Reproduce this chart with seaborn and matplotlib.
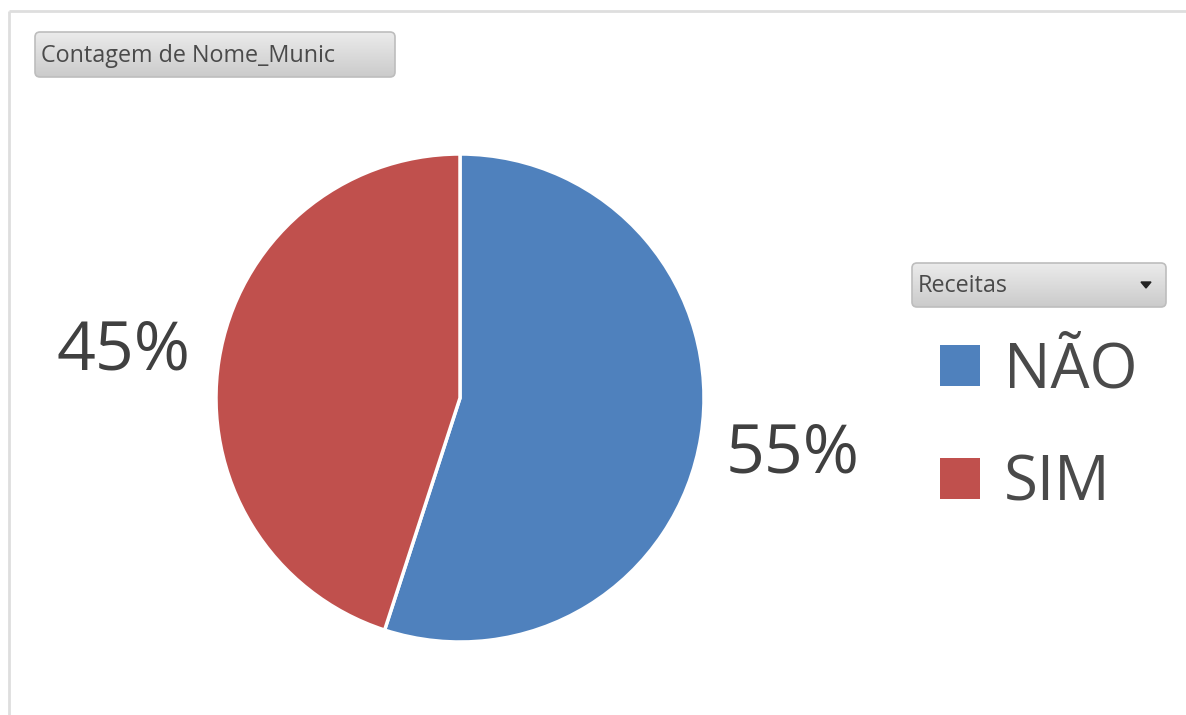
import matplotlib
matplotlib.use("Agg")
import matplotlib.pyplot as plt
import seaborn as sns
import numpy as np
from matplotlib.patches import FancyBboxPatch, Polygon
from matplotlib.colors import LinearSegmentedColormap

sns.set_theme(style="white")
plt.rcParams['font.family'] = ['Open Sans', 'DejaVu Sans']

# ---- data ----
categories = ["NÃO", "SIM"]
values = [55, 45]
pct_labels = ["55%", "45%"]
value_title = "Contagem de Nome_Munic"
legend_title = "Receitas"
colors = ["#4F81BD", "#C0504D"]

W, H = 1186, 715
fig = plt.figure(figsize=(W / 100, H / 100), dpi=100)
fig.patch.set_facecolor("white")

# background / decoration axes in pixel coordinates
bg = fig.add_axes([0, 0, 1, 1])
bg.set_xlim(0, W)
bg.set_ylim(H, 0)
bg.axis("off")
bg.plot([9, W], [11, 11], color="#dedede", lw=2, solid_capstyle="butt")
bg.plot([9, 9], [11, H], color="#dedede", lw=2, solid_capstyle="butt")

grad = np.linspace(0, 1, 64).reshape(-1, 1)
gcmap = LinearSegmentedColormap.from_list("g", ["#ebebeb", "#cbcbcb"])

def button(x0, y0, x1, y1, text, arrow=False):
    box = FancyBboxPatch((x0, y0), x1 - x0, y1 - y0,
                         boxstyle="round,pad=0,rounding_size=5",
                         facecolor="none", edgecolor="#bdbdbd", lw=1.2, zorder=3)
    bg.add_patch(box)
    im = bg.imshow(grad, extent=(x0, x1, y1, y0), cmap=gcmap, aspect="auto", zorder=2)
    im.set_clip_path(box)
    bg.text(x0 + 6, (y0 + y1) / 2 + 1, text, fontsize=16.8, color="#4a4a4a",
            va="center", ha="left", zorder=4)
    if arrow:
        cx, cy = x1 - 20, (y0 + y1) / 2
        bg.add_patch(Polygon([[cx - 5, cy - 3], [cx + 5, cy - 3], [cx, cy + 3]],
                             closed=True, color="#222222", zorder=4))

button(35, 32, 395, 77, value_title)
button(912, 263, 1166, 307, legend_title, arrow=True)

# pie axes
cx, cy, r = 460, 398, 244
ax = fig.add_axes([(cx - r) / W, (H - cy - r) / H, 2 * r / W, 2 * r / H])
wedges, _ = ax.pie(values, colors=colors, startangle=90, counterclock=False,
                   wedgeprops=dict(edgecolor="white", linewidth=2.5))
ax.set_xlim(-1, 1)
ax.set_ylim(-1, 1)
ax.set_aspect("equal")

# percentage labels (positions in pixel space)
bg.text(793, 455, pct_labels[0], fontsize=49, color="#404040", ha="center", va="center")
bg.text(124, 352, pct_labels[1], fontsize=49, color="#404040", ha="center", va="center")

leg = fig.legend(wedges, categories, loc="upper left",
                 bbox_to_anchor=(940 / W, 1 - 340 / H),
                 frameon=False, fontsize=44.5, labelcolor="#4a4a4a",
                 handlelength=0.65, handleheight=0.65, handletextpad=0.38,
                 labelspacing=0.81, borderpad=0, borderaxespad=0)
for h in leg.legend_handles:
    h.set_edgecolor("none")

fig.savefig("out.png", dpi=100, facecolor="white")
